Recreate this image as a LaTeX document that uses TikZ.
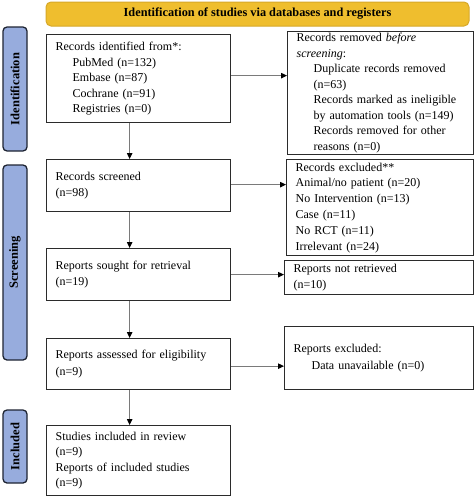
\documentclass[tikz,border=0pt]{standalone}
\usepackage{fontspec}
\setmainfont{Liberation Serif}
\usetikzlibrary{arrows.meta}
\definecolor{gold}{HTML}{EFBE2E}
\definecolor{goldborder}{HTML}{D6A828}
\definecolor{sideblue}{HTML}{97ACDD}
\definecolor{sideborder}{HTML}{1E2433}
\definecolor{boxline}{HTML}{2B2B2B}
\definecolor{arrline}{HTML}{7A7A7A}
\begin{document}
\begin{tikzpicture}[x=1pt,y=-1pt,
  box/.style={draw=boxline, line width=1.3pt, fill=white, anchor=north west,
    inner xsep=9pt, inner ysep=0pt, align=left,
    font=\fontsize{12}{15.5}\selectfont},
  side/.style={draw=sideborder, line width=1.3pt, fill=sideblue, rounded corners=4pt,
    rotate=90, inner sep=0pt, minimum height=24pt,
    font=\fontsize{12.5}{13}\selectfont\bfseries},
  flow/.style={draw=arrline, line width=0.9pt, -{Triangle[length=6pt,width=5.5pt,color=black]}}
]
\useasboundingbox (0,0) rectangle (474,498);

% banner
\node[draw=goldborder, line width=1pt, fill=gold, rounded corners=5pt,
  minimum width=423pt, minimum height=24pt, inner sep=0pt,
  font=\fontsize{12.3}{13}\selectfont\bfseries] (banner) at (257.5,14)
  {Identification of studies via databases and registers};

% side labels
\node[side, minimum width=124pt] (sideid) at (15,89) {Identification};
\node[side, minimum width=195pt] (sidescr) at (15,262.5) {Screening};
\node[side, minimum width=73pt] (sideinc) at (15,446.5) {Included};

% left boxes
\node[box, minimum width=184pt, minimum height=88pt, text width=166pt] (b1) at (46,34)
  {Records identified from*:\\
   \hspace*{17pt}PubMed (n=132)\\
   \hspace*{17pt}Embase (n=87)\\
   \hspace*{17pt}Cochrane (n=91)\\
   \hspace*{17pt}Registries (n=0)};
\node[box, minimum width=184pt, minimum height=52pt, text width=166pt,
  font=\fontsize{12}{16.8}\selectfont] (b2) at (46,159)
  {Records screened\\(n=98)};
\node[box, minimum width=184pt, minimum height=52pt, text width=166pt,
  font=\fontsize{12}{16.5}\selectfont] (b3) at (46,248)
  {Reports sought for retrieval\\(n=19)};
\node[box, minimum width=184pt, minimum height=51pt, text width=166pt,
  font=\fontsize{12}{16.8}\selectfont] (b4) at (46,338)
  {Reports assessed for eligibility\\(n=9)};
\node[box, minimum width=184pt, minimum height=70pt, text width=166pt] (b5) at (46,425)
  {Studies included in review\\(n=9)\\Reports of included studies\\(n=9)};

% right boxes
\node[box, minimum width=186pt, minimum height=123pt, text width=168pt] (r1) at (287,31)
  {Records removed \textit{before}\\
   \textit{screening}:\\
   \hspace*{17pt}Duplicate records removed\\
   \hspace*{17pt}(n=63)\\
   \hspace*{17pt}Records marked as ineligible\\
   \hspace*{17pt}by automation tools (n=149)\\
   \hspace*{17pt}Records removed for other\\
   \hspace*{17pt}reasons (n=0)};
\node[box, minimum width=187pt, minimum height=96pt, text width=169pt,
  font=\fontsize{12}{15.8}\selectfont] (r2) at (286,159)
  {Records excluded**\\
   Animal/no patient (n=20)\\
   No Intervention (n=13)\\
   Case (n=11)\\
   No RCT (n=11)\\
   Irrelevant (n=24)};
\node[box, minimum width=189pt, minimum height=34pt, text width=171pt,
  font=\fontsize{12}{16}\selectfont] (r3) at (284,260)
  {Reports not retrieved\\(n=10)};
\node[box, minimum width=189pt, minimum height=63pt, text width=171pt,
  font=\fontsize{12}{17}\selectfont] (r4) at (284,326)
  {Reports excluded:\\\hspace*{18pt}Data unavailable (n=0)};

% vertical arrows
\foreach \a/\b in {b1/b2, b2/b3, b3/b4, b4/b5}
  \draw[flow] ([xshift=-9pt]\a.south) -- ([xshift=-9pt]\b.north);

% horizontal arrows
\draw[flow] ([yshift=3pt]b1.east) -- ([yshift=3pt]b1.east -| r1.west);
\draw[flow] ([yshift=1pt]b2.east) -- ([yshift=1pt]b2.east -| r2.west);
\draw[flow] (b3.east) -- (b3.east -| r3.west);
\draw[flow] ([yshift=-2pt]b4.east) -- ([yshift=-2pt]b4.east -| r4.west);
\end{tikzpicture}
\end{document}
